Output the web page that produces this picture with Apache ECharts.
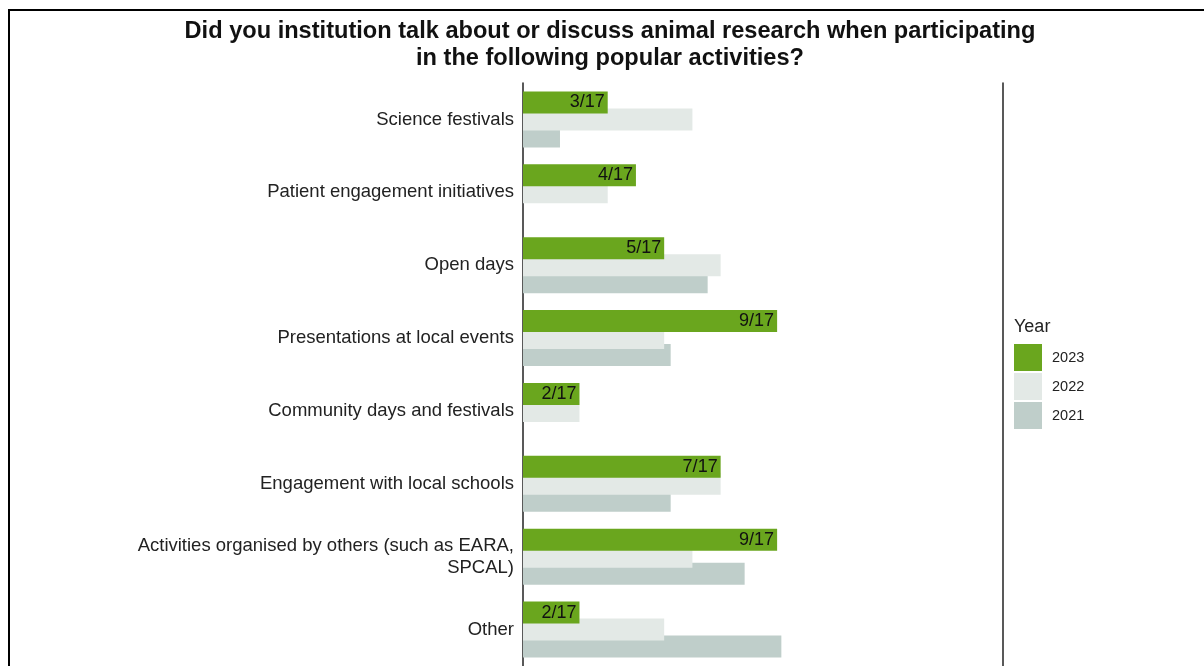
<!DOCTYPE html>
<html>
<head>
<meta charset="utf-8">
<script src="https://cdn.jsdelivr.net/npm/echarts@6/dist/echarts.min.js"></script>
<style>
html,body{margin:0;padding:0;background:#fff;}
#chart{width:1204px;height:666px;}
</style>
</head>
<body>
<div id="chart"></div>
<script>
const categories = [
  "Science festivals",
  "Patient engagement initiatives",
  "Open days",
  "Presentations at local events",
  "Community days and festivals",
  "Engagement with local schools",
  "Activities organised by others (such as EARA, SPCAL)",
  "Other"
];
const seriesNames = ["2023", "2022", "2021"];
const values2023 = [3, 4, 5, 9, 2, 7, 9, 2];
const values2022 = [6, 3, 7, 5, 2, 7, 6, 5];
const values2021 = [1.31, 0, 6.54, 5.23, 0, 5.23, 7.85, 9.15];
const denominator = 17;
const colors = ["#6aa61e", "#e3e9e6", "#bfceca"];

const chart = echarts.init(document.getElementById('chart'), null, {renderer: 'canvas'});
const FONT = "'Liberation Sans', Arial, sans-serif";

function barSeries(name, data, color, z, withLabel) {
  return {
    name: name,
    type: 'bar',
    data: data,
    barWidth: 22,
    barGap: '-22.7%',
    z: z,
    itemStyle: {color: color},
    label: withLabel ? {
      show: true,
      position: 'insideRight',
      distance: 3,
      color: '#111',
      fontFamily: FONT,
      fontSize: 18,
      formatter: p => p.value + '/' + denominator
    } : {show: false},
    emphasis: {disabled: true},
    animation: false
  };
}

chart.setOption({
  backgroundColor: '#fff',
  animation: false,
  graphic: [
    {
      type: 'rect',
      shape: {x: 9, y: 10, width: 1300, height: 700},
      style: {fill: 'none', stroke: '#000', lineWidth: 2},
      silent: true
    },
    {
      type: 'text',
      x: 610,
      y: 18,
      style: {
        text: 'Did you institution talk about or discuss animal research when participating\nin the following popular activities?',
        textAlign: 'center',
        fill: '#111',
        font: "bold 23.6px 'Liberation Sans', Arial, sans-serif",
        lineHeight: 27
      }
    },
    {
      type: 'text',
      x: 1014,
      y: 318,
      style: {
        text: 'Year',
        fill: '#222',
        font: "18px 'Liberation Sans', Arial, sans-serif"
      }
    }
  ],
  legend: {
    orient: 'vertical',
    left: 1014,
    top: 344,
    padding: 0,
    icon: 'rect',
    itemWidth: 28,
    itemHeight: 27,
    itemGap: 2,
    data: seriesNames,
    selectedMode: false,
    textStyle: {fontFamily: FONT, fontSize: 14.5, color: '#222', padding: [0, 0, 0, 5]}
  },
  grid: {left: 523, right: 201, top: 83, height: 587, containLabel: false},
  xAxis: {type: 'value', min: 0, max: denominator, show: false},
  yAxis: [
    {
      type: 'category',
      data: categories,
      inverse: true,
      axisLine: {show: true, lineStyle: {color: '#222', width: 1.5}},
      axisTick: {show: false},
      axisLabel: {
        fontFamily: FONT,
        fontSize: 18.5,
        color: '#222',
        margin: 9,
        lineHeight: 22,
        align: 'right',
        padding: [7, 0, 0, 0],
        formatter: v => v.replace('EARA, ', 'EARA,\n')
      }
    },
    {
      type: 'category',
      data: categories,
      inverse: true,
      position: 'right',
      axisLine: {show: true, lineStyle: {color: '#222', width: 1.5}},
      axisTick: {show: false},
      axisLabel: {show: false}
    }
  ],
  series: [
    barSeries(seriesNames[0], values2023, colors[0], 4, true),
    barSeries(seriesNames[1], values2022, colors[1], 3, false),
    barSeries(seriesNames[2], values2021, colors[2], 2, false)
  ]
});
</script>
</body>
</html>
